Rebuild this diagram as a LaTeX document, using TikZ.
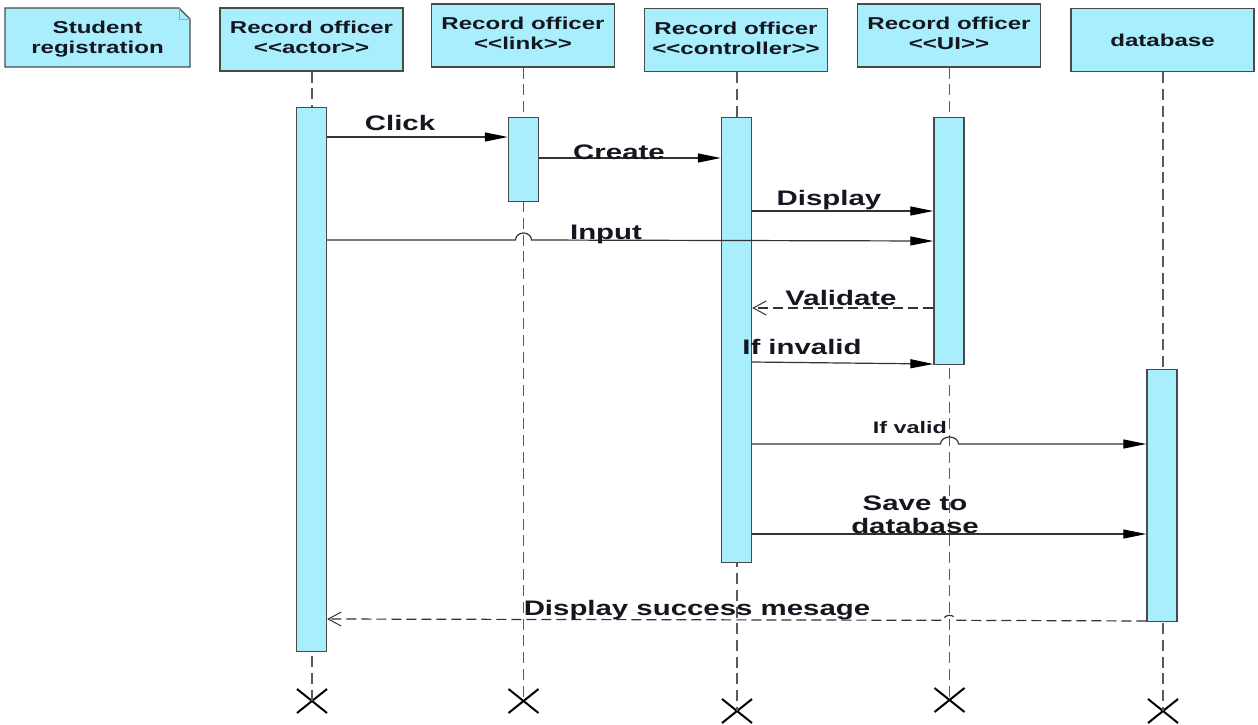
\documentclass[tikz,border=0pt]{standalone}
\usepackage{graphicx}
\usepackage{fontspec}
\setmainfont{Liberation Sans}[Ligatures=TeXOff]
\usetikzlibrary{arrows.meta,shapes.misc}
\definecolor{cyanfill}{HTML}{A8EEFD}
\definecolor{edge}{HTML}{4A4A4A}
\definecolor{lifec}{HTML}{5A5A5A}
\definecolor{ink}{HTML}{161620}
\definecolor{linec}{HTML}{333333}
\newcommand\lbl[3]{{\fontsize{#1}{#2}\selectfont\bfseries\scalebox{1.4}[1]{#3}}}
\begin{document}
\begin{tikzpicture}[x=1pt,y=-1pt,
  hdr/.style={draw=edge, fill=cyanfill, line width=1.2pt, inner sep=0pt, minimum width=183pt, minimum height=63pt, text=ink, align=center},
  life/.style={draw=lifec, line width=1.8pt, dash pattern=on 11pt off 5.7pt},
  act/.style={draw=edge, fill=cyanfill, line width=1.4pt, inner sep=0pt, minimum width=30pt, anchor=north},
  msg/.style={draw=linec, line width=1.2pt, -{Triangle[length=23pt,width=9pt,color=black]}},
  ret/.style={draw=linec, line width=1.2pt, dash pattern=on 10pt off 5pt, -{Straight Barb[length=13pt,width=14pt,line width=1pt]}},
  lab/.style={text=ink, inner sep=0pt, anchor=base},
  xmark/.style={draw=black, cross out, line width=2pt, inner sep=0pt, minimum width=28pt, minimum height=22pt}]
\fill[white] (0,0) rectangle (1258,724);
\useasboundingbox (0,0) rectangle (1258,724);

% note
\draw[edge, fill=cyanfill, line width=1.2pt] (5,8) -- (179,8) -- (190,19) -- (190,67) -- (5,67) -- cycle;
\draw[edge!50, line width=0.8pt] (179,8) -- (179,19) -- (190,19);
\node[text=ink, inner sep=0pt] (note) at (97.5,39.5) {\lbl{17.2}{20}{\begin{tabular}{@{}c@{}}Student\\registration\end{tabular}}};

% headers
\node[hdr] (hA) at (311.5,39.5) {\lbl{17.2}{20}{\begin{tabular}{@{}c@{}}Record officer\\<<actor>>\end{tabular}}};
\node[hdr] (hL) at (523,35.5) {\lbl{17.2}{20}{\begin{tabular}{@{}c@{}}Record officer\\<<link>>\end{tabular}}};
\node[hdr] (hC) at (736,40) {\lbl{17.2}{20}{\begin{tabular}{@{}c@{}}Record officer\\<<controller>>\end{tabular}}};
\node[hdr] (hU) at (949,35.5) {\lbl{17.2}{20}{\begin{tabular}{@{}c@{}}Record officer\\<<UI>>\end{tabular}}};
\node[hdr] (hD) at (1162.5,40) {\lbl{17.2}{20}{database}};

% destruction marks
\node[xmark] (xA) at (312,701) {};
\node[xmark] (xL) at (523.5,701) {};
\node[xmark] (xC) at (737,711) {};
\node[xmark] (xU) at (949.5,700) {};
\node[xmark] (xD) at (1163,711) {};

% lifelines
\draw[life] (hA.south -| xA) -- (xA.center);
\draw[life] (hL.south -| xL) -- (xL.center);
\draw[life] (hC.south -| xC) -- (xC.center);
\draw[life] (hU.south -| xU) -- (xU.center);
\draw[life] (hD.south -| xD) -- (xD.center);

% activations
\node[act, minimum height=544pt] (aA) at (311.5,107) {};
\node[act, minimum height=84pt] (aL) at (523.5,117) {};
\node[act, minimum height=445pt] (aC) at (736.5,117) {};
\node[act, minimum height=247pt] (aU) at (949,117) {};
\node[act, minimum height=252pt] (aD) at (1162,369) {};

% messages
\draw[msg] (aA.east |- 0,137) -- (aL.west |- 0,137);
\draw[msg] (aL.east |- 0,158) -- (aC.west |- 0,158);
\draw[msg] (aC.east |- 0,211) -- (aU.west |- 0,211);
\draw[msg] (aA.east |- 0,240) -- (515.5,240) arc[start angle=180,end angle=0,x radius=8pt,y radius=7pt] -- (aU.west |- 0,241);
\draw[ret] (aU.west |- 0,308) -- (aC.east |- 0,308);
\draw[msg] (aC.east |- 0,362) -- (aU.west |- 0,364);
\draw[msg] (aC.east |- 0,444) -- (940.5,444) arc[start angle=180,end angle=0,x radius=9pt,y radius=7pt] -- (aD.west |- 0,444);
\draw[msg] (aC.east |- 0,534) -- (aD.west |- 0,534);
\draw[ret] (aD.west |- 0,621) -- (955.5,620.3) arc[start angle=0,end angle=180,x radius=6pt,y radius=5pt] -- (aA.east |- 0,619);

% labels
\node[lab] (lClick) at (400,130) {\lbl{21}{24}{Click}};
\node[lab] (lCreate) at (619,159) {\lbl{21}{24}{Create}};
\node[lab] (lDisplay) at (829,205) {\lbl{21}{24}{Display}};
\node[lab] (lInput) at (606,239) {\lbl{21}{24}{Input}};
\node[lab] (lValidate) at (841,305) {\lbl{21}{24}{Validate}};
\node[lab] (lInvalid) at (802,354) {\lbl{21}{24}{If invalid}};
\node[lab] (lValid) at (910,433) {\lbl{16.7}{20}{If valid}};
\node[lab] (lSave) at (915,510) {\lbl{21}{23}{\begin{tabular}[t]{@{}c@{}}Save to\\database\end{tabular}}};
\node[lab] (lSuccess) at (697,615) {\lbl{21}{24}{Display success mesage}};
\end{tikzpicture}
\end{document}
